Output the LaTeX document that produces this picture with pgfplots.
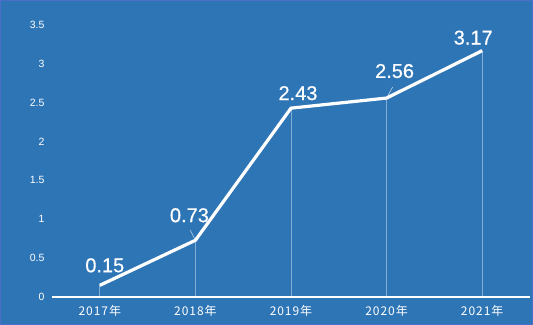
\documentclass[border=0pt]{standalone}
\usepackage{pgfplots}
\pgfplotsset{compat=1.18}
\usepackage{pgfplotstable}
\usepackage{fontspec}
\setmainfont{Liberation Sans}
\newfontfamily\cjk[LetterSpace=8]{Noto Sans CJK SC}
\newfontfamily\lab[FakeBold=0.5]{Liberation Sans}
\definecolor{bg}{HTML}{2E75B6}
\definecolor{bd}{HTML}{4A6FC8}
\pgfplotstableread{
x y dx dy
0 0.15 5 20
1 0.73 -6 25
2 2.43 7 15
3 2.56 8 27
4 3.17 -9 13
}\datatable
\begin{document}
\begin{tikzpicture}
\fill[bg] (-52bp,-28bp) rectangle (481bp,297bp);
\draw[bd, line width=1.2bp] (-51.4bp,-27.4bp) rectangle (480.4bp,296.4bp);
\begin{axis}[
  at={(0,0)}, anchor=south west,
  scale only axis,
  width=478bp, height=272bp,
  xmin=-0.5, xmax=4.5, ymin=0, ymax=3.5,
  axis line style={draw=none},
  xtick={0,1,2,3,4},
  xticklabels={2017年,2018年,2019年,2020年,2021年},
  ytick={0,0.5,...,3.5},
  yticklabels={0,0.5,1,1.5,2,2.5,3,3.5},
  major tick length=0pt,
  tick label style={white},
  x tick label style={font=\cjk\fontsize{12bp}{14bp}\selectfont, yshift=-5bp},
  y tick label style={font=\fontsize{10.5bp}{12bp}\selectfont, xshift=-4bp},
  /pgf/number format/assume math mode=true,
  clip=false,
]
\addplot[ycomb, white, opacity=0.4, line width=0.8bp, mark=none] table[x=x,y=y] {\datatable};
\draw[white, line width=1.2bp] (axis cs:-0.5,0) -- (axis cs:4.5,0);
\draw[white!70!bg, line width=0.6bp] (axis cs:1,0.73) -- ++(-5bp,10bp);
\draw[white!70!bg, line width=0.6bp] (axis cs:3,2.56) -- ++(6bp,11bp);
\addplot[white, line width=3.2bp, mark=none,
  nodes near coords,
  point meta=explicit symbolic,
  visualization depends on={\thisrow{dx} \as \dx},
  visualization depends on={\thisrow{dy} \as \dy},
  every node near coord/.append style={anchor=center, xshift=\dx bp, yshift=\dy bp, white, font=\lab\fontsize{20bp}{22bp}\selectfont, inner sep=0pt},
] table[x=x, y=y, meta=y] {\datatable};
\end{axis}
\pgfresetboundingbox
\path[use as bounding box] (-52bp,-28bp) rectangle (481bp,297bp);
\end{tikzpicture}
\end{document}
